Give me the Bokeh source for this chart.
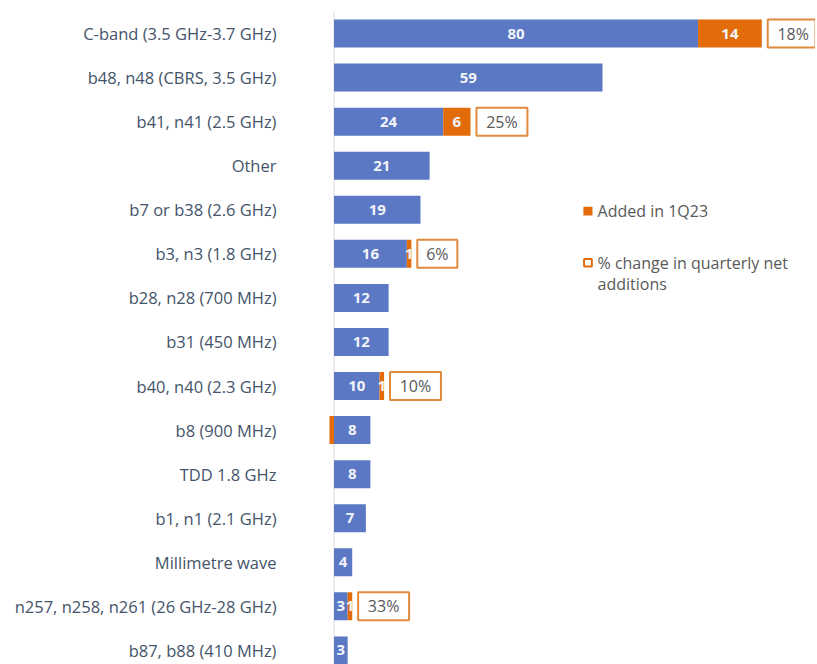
from bokeh.plotting import figure
from bokeh.models import Range1d, FixedTicker, Span, ColumnDataSource
from bokeh.core.properties import value
from bokeh.embed import file_html
from bokeh.resources import INLINE

categories = ["C-band (3.5 GHz-3.7 GHz)", "b48, n48 (CBRS, 3.5 GHz)", "b41, n41 (2.5 GHz)",
              "Other", "b7 or b38 (2.6 GHz)", "b3, n3 (1.8 GHz)", "b28, n28 (700 MHz)",
              "b31 (450 MHz)", "b40, n40 (2.3 GHz)", "b8 (900 MHz)", "TDD 1.8 GHz",
              "b1, n1 (2.1 GHz)", "Millimetre wave", "n257, n258, n261 (26 GHz-28 GHz)",
              "b87, b88 (410 MHz)"]
base_values = [80, 59, 24, 21, 19, 16, 12, 12, 10, 8, 8, 7, 4, 3, 3]
added_1q23 = [14, 0, 6, 0, 0, 1, 0, 0, 1, -1, 0, 0, 0, 1, 0]
pct_change = ["18%", "", "25%", "", "", "6%", "", "", "10%", "", "", "", "", "33%", ""]

BLUE = "#5a78c4"
ORANGE = "#e36c0a"
BOX_LINE = "#e08a3c"
LABEL = "#44546a"
GREY = "#595959"
FONT = value("Open Sans")

n = len(categories)
ys = list(range(n))
bar_h = 0.635

p = figure(width=815, height=664, output_backend="svg", toolbar_location=None,
           x_range=Range1d(-1.43, 105.8), y_range=Range1d(14.32, -0.5),
           min_border_left=327, min_border_right=0, min_border_top=11, min_border_bottom=0)
p.outline_line_color = None
p.xgrid.visible = False
p.ygrid.visible = False
p.xaxis.visible = False
p.background_fill_color = "white"
p.border_fill_color = "white"

ya = p.yaxis[0]
ya.ticker = FixedTicker(ticks=ys)
ya.major_label_overrides = {i: c for i, c in enumerate(categories)}
ya.axis_line_color = None
ya.major_tick_line_color = None
ya.minor_tick_line_color = None
ya.major_label_standoff = 45
ya.major_label_text_font = "Open Sans"
ya.major_label_text_font_size = "16.5px"
ya.major_label_text_color = LABEL

p.add_layout(Span(location=0, dimension="height", line_color="#d9d9d9", line_width=1, level="underlay"))

src = ColumnDataSource(dict(
    y=ys, base=base_values,
    base_lbl=[str(b) for b in base_values],
    base_mid=[b / 2 for b in base_values],
))
p.hbar(y="y", left=0, right="base", height=bar_h, source=src, fill_color=BLUE, line_color=None)

pos_idx = [i for i, a in enumerate(added_1q23) if a > 0]
neg_idx = [i for i, a in enumerate(added_1q23) if a < 0]
add_src = ColumnDataSource(dict(
    y=pos_idx,
    left=[base_values[i] for i in pos_idx],
    right=[base_values[i] + added_1q23[i] for i in pos_idx],
    mid=[base_values[i] + added_1q23[i] / 2 for i in pos_idx],
    lbl=[str(added_1q23[i]) for i in pos_idx],
))
p.hbar(y="y", left="left", right="right", height=bar_h, source=add_src, fill_color=ORANGE, line_color=None)
neg_src = ColumnDataSource(dict(y=neg_idx, right=[added_1q23[i] for i in neg_idx]))
p.hbar(y="y", left=0, right="right", height=bar_h, source=neg_src, fill_color=ORANGE, line_color=None)

p.text(x="base_mid", y="y", text="base_lbl", source=src, text_align="center", text_baseline="middle",
       text_color="#f2f4fa", text_font=FONT, text_font_size="15px", text_font_style="bold")
p.text(x="mid", y="y", text="lbl", source=add_src, text_align="center", text_baseline="middle",
       text_color="#f2f4fa", text_font=FONT, text_font_size="15px", text_font_style="bold")

pidx = [i for i, s in enumerate(pct_change) if s]
gap = 1.3
widths = [4.0 + 2.4 * len(pct_change[i]) for i in pidx]
lefts = [max(base_values[i] + added_1q23[i], base_values[i]) + gap for i in pidx]
pct_src = ColumnDataSource(dict(
    y=pidx, left=lefts, right=[l + w for l, w in zip(lefts, widths)],
    mid=[l + w / 2 for l, w in zip(lefts, widths)], lbl=[pct_change[i] for i in pidx],
))
p.hbar(y="y", left="left", right="right", height=bar_h, source=pct_src,
       fill_color="white", line_color=BOX_LINE, line_width=2)
p.text(x="mid", y="y", text="lbl", source=pct_src, text_align="center", text_baseline="middle",
       text_color=GREY, text_font=FONT, text_font_size="16px")

# legend
p.rect(x=[55.8], y=[4.03], width=2.0, height=0.2, fill_color=ORANGE, line_color=None)
p.rect(x=[55.8], y=[5.2], width=1.7, height=0.17, fill_color="white", line_color=ORANGE, line_width=2)
p.text(x=[57.9, 57.9, 57.9], y=[4.03, 5.2, 5.68],
       text=["Added in 1Q23", "% change in quarterly net", "additions"],
       text_align="left", text_baseline="middle", text_color=GREY, text_font=FONT, text_font_size="16px")

open("out.html", "w").write(file_html(p, INLINE))
